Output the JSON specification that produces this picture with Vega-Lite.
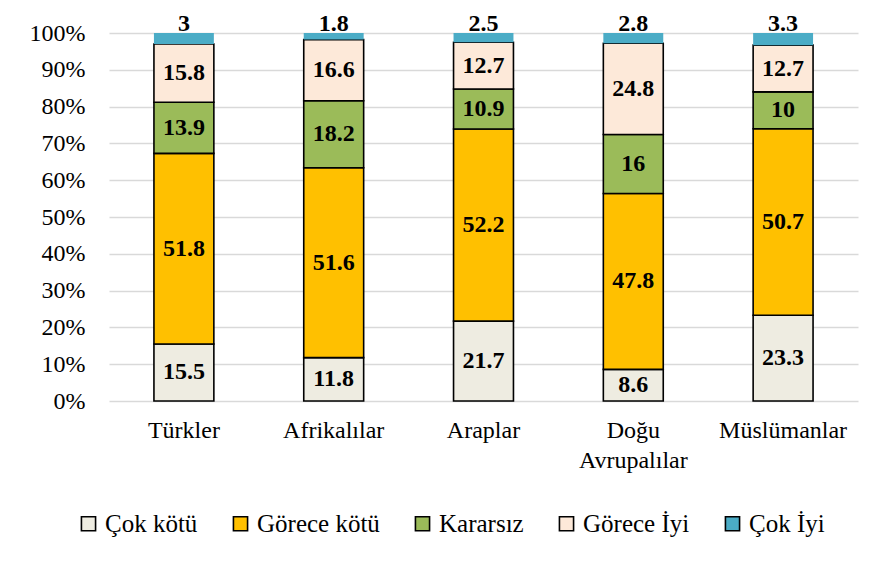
{
  "$schema": "https://vega.github.io/schema/vega-lite/v6.json",
  "width": 749,
  "height": 368,
  "autosize": {"type": "none"},
  "padding": {"left": 109, "top": 33, "right": 26, "bottom": 161},
  "background": "white",
  "config": {
    "view": {"stroke": null},
    "font": "Liberation Serif",
    "axis": {"labelFont": "Liberation Serif"},
    "legend": {"labelFont": "Liberation Serif"},
    "text": {"font": "Liberation Serif"},
    "axisY": {
      "title": null,
      "values": [0, 10, 20, 30, 40, 50, 60, 70, 80, 90, 100],
      "labelExpr": "datum.value + '%'",
      "labelOverlap": false,
      "labelFont": "Liberation Serif",
      "labelFontSize": 24,
      "labelColor": "black",
      "labelPadding": 24,
      "ticks": false,
      "domain": false,
      "grid": true,
      "gridColor": "#d9d9d9",
      "gridWidth": 1.5
    }
  },
  "data": {
    "values": [
      {"group": "Türkler", "cat": "Çok kötü", "order": 1, "value": 15.5},
      {"group": "Türkler", "cat": "Görece kötü", "order": 2, "value": 51.8},
      {"group": "Türkler", "cat": "Kararsız", "order": 3, "value": 13.9},
      {"group": "Türkler", "cat": "Görece İyi", "order": 4, "value": 15.8},
      {"group": "Türkler", "cat": "Çok İyi", "order": 5, "value": 3},
      {"group": "Afrikalılar", "cat": "Çok kötü", "order": 1, "value": 11.8},
      {"group": "Afrikalılar", "cat": "Görece kötü", "order": 2, "value": 51.6},
      {"group": "Afrikalılar", "cat": "Kararsız", "order": 3, "value": 18.2},
      {"group": "Afrikalılar", "cat": "Görece İyi", "order": 4, "value": 16.6},
      {"group": "Afrikalılar", "cat": "Çok İyi", "order": 5, "value": 1.8},
      {"group": "Araplar", "cat": "Çok kötü", "order": 1, "value": 21.7},
      {"group": "Araplar", "cat": "Görece kötü", "order": 2, "value": 52.2},
      {"group": "Araplar", "cat": "Kararsız", "order": 3, "value": 10.9},
      {"group": "Araplar", "cat": "Görece İyi", "order": 4, "value": 12.7},
      {"group": "Araplar", "cat": "Çok İyi", "order": 5, "value": 2.5},
      {"group": "Doğu Avrupalılar", "cat": "Çok kötü", "order": 1, "value": 8.6},
      {"group": "Doğu Avrupalılar", "cat": "Görece kötü", "order": 2, "value": 47.8},
      {"group": "Doğu Avrupalılar", "cat": "Kararsız", "order": 3, "value": 16},
      {"group": "Doğu Avrupalılar", "cat": "Görece İyi", "order": 4, "value": 24.8},
      {"group": "Doğu Avrupalılar", "cat": "Çok İyi", "order": 5, "value": 2.8},
      {"group": "Müslümanlar", "cat": "Çok kötü", "order": 1, "value": 23.3},
      {"group": "Müslümanlar", "cat": "Görece kötü", "order": 2, "value": 50.7},
      {"group": "Müslümanlar", "cat": "Kararsız", "order": 3, "value": 10},
      {"group": "Müslümanlar", "cat": "Görece İyi", "order": 4, "value": 12.7},
      {"group": "Müslümanlar", "cat": "Çok İyi", "order": 5, "value": 3.3}
    ]
  },
  "transform": [
    {"stack": "value", "groupby": ["group"], "sort": [{"field": "order", "order": "ascending"}], "as": ["y0", "y1"]},
    {"calculate": "(datum.y0 + datum.y1) / 2", "as": "ymid"}
  ],
  "encoding": {
    "x": {
      "field": "group",
      "type": "nominal",
      "sort": ["Türkler", "Afrikalılar", "Araplar", "Doğu Avrupalılar", "Müslümanlar"],
      "scale": {"paddingInner": 0.6, "paddingOuter": 0.3},
      "axis": {
        "title": null,
        "labelAngle": 0,
        "domain": false,
        "ticks": false,
        "grid": false,
        "labelFont": "Liberation Serif",
        "labelFontSize": 24,
        "labelColor": "black",
        "labelPadding": 17,
        "labelLineHeight": 30,
        "labelExpr": "datum.value === 'Doğu Avrupalılar' ? ['Doğu', 'Avrupalılar'] : datum.value"
      }
    }
  },
  "layer": [
    {
      "mark": {"type": "bar", "strokeWidth": 1.6},
      "encoding": {
        "y": {
          "field": "y0",
          "type": "quantitative",
          "title": null,
          "scale": {"domain": [0, 100]}
        },
        "y2": {"field": "y1"},
        "stroke": {
          "condition": {"test": "datum.cat === 'Çok İyi'", "value": null},
          "value": "black"
        },
        "color": {
          "field": "cat",
          "type": "nominal",
          "scale": {
            "domain": ["Çok kötü", "Görece kötü", "Kararsız", "Görece İyi", "Çok İyi"],
            "range": ["#EEECE1", "#FFC000", "#9BBB59", "#FDE9D9", "#4BACC6"]
          },
          "legend": {
            "title": null,
            "orient": "none",
            "direction": "horizontal",
            "legendX": -33,
            "legendY": 478,
            "symbolType": "square",
            "symbolSize": 200,
            "symbolStrokeWidth": 1.6,
            "symbolOpacity": 1,
            "labelFont": "Liberation Serif",
            "labelFontSize": 25,
            "labelColor": "black",
            "labelOffset": 4,
            "columnPadding": 30,
            "labelLimit": 300,
            "encode": {
              "symbols": {
                "update": {
                  "stroke": {"signal": "datum.label === 'Çok İyi' ? 'transparent' : 'black'"}
                }
              }
            }
          }
        }
      }
    },
    {
      "transform": [{"filter": "datum.cat !== 'Çok İyi'"}],
      "mark": {"type": "text", "font": "Liberation Serif", "fontWeight": "bold", "fontSize": 24, "color": "black", "baseline": "middle"},
      "encoding": {
        "y": {"field": "ymid", "type": "quantitative", "title": null},
        "text": {"field": "value", "type": "nominal"}
      }
    },
    {
      "transform": [{"filter": "datum.cat === 'Çok İyi'"}],
      "mark": {"type": "text", "font": "Liberation Serif", "fontWeight": "bold", "fontSize": 24, "color": "black", "baseline": "alphabetic", "dy": -2},
      "encoding": {
        "y": {"field": "y1", "type": "quantitative", "title": null},
        "text": {"field": "value", "type": "nominal"}
      }
    }
  ]
}
